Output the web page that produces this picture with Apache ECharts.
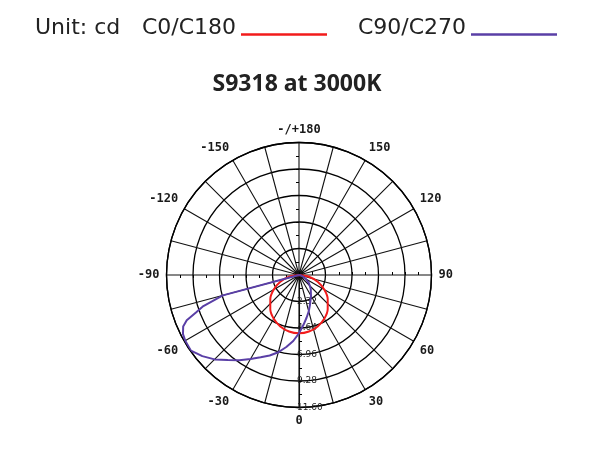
<!DOCTYPE html>
<html>
<head>
<meta charset="utf-8">
<script src="https://cdn.jsdelivr.net/npm/echarts@6/dist/echarts.min.js"></script>
<style>
html,body{margin:0;padding:0;background:#fff;}
#chart{width:594px;height:466px;}
</style>
</head>
<body>
<div id="chart"></div>
<script>
// ---- data ----
const titleText = 'S9318 at 3000K';
const unitText = 'Unit: cd';
const seriesNames = ['C0/C180', 'C90/C270'];
const angleC0 = [-90, -80, -70, -60, -50, -40, -30, -20, -10, 0, 10, 20, 30, 40, 50, 60, 70, 80, 90];
const intensityC0 = [0, 0.89, 1.74, 2.55, 3.28, 3.91, 4.42, 4.79, 5.02, 5.10, 5.02, 4.79, 4.42, 3.91, 3.28, 2.55, 1.74, 0.89, 0];
const angleC90 = [-90, -80, -76, -75, -72, -70, -68, -66, -63, -60, -55, -50, -45, -40, -35, -30, -25, -20, -15, -10, -5, 0, 5, 10, 15, 20, 30, 40, 50, 60, 70, 80, 90];
const intensityC90 = [0, 0, 0, 6.9, 8.8, 9.6, 10.6, 11.1, 11.4, 11.5, 11.55, 11.05, 10.45, 9.7, 9.1, 8.5, 7.95, 7.5, 7.0, 6.4, 5.8, 5.1, 4.4, 3.8, 3.3, 2.8, 2.1, 1.6, 1.15, 0.7, 0.35, 0.1, 0];
const radiusMax = 11.6;
const radiusStep = 2.32;
const angleStep = 15;

// ---- build ----
const toAxisAngle = a => (a < 0 ? a + 360 : a);
const pairs = (angs, vals) => angs.map((a, i) => [vals[i], toAxisAngle(a)]);

const CENTER = [299, 275];
const RADIUS = 132.5;

const polars = [{ center: CENTER, radius: RADIUS }];
const angleAxes = [{
  polarIndex: 0,
  type: 'value', min: 0, max: 360, interval: angleStep,
  startAngle: -90, clockwise: false,
  axisLine: { show: true, lineStyle: { color: '#000', width: 1.3 } },
  axisTick: { show: false },
  splitLine: { show: true, lineStyle: { color: '#111', width: 1.1 } },
  axisLabel: {
    margin: 7,
    fontFamily: 'DejaVu Sans Mono', fontWeight: 'bold', fontSize: 12, color: '#1a1a1a',
    formatter: v => {
      if (v % 30 !== 0 || v === 360) return '';
      if (v === 180) return '-/+180';
      return String(v > 180 ? v - 360 : v);
    }
  }
}];
const radiusAxes = [{
  polarIndex: 0,
  type: 'value', min: 0, max: radiusMax, interval: radiusStep,
  axisLine: { show: true, lineStyle: { color: '#111', width: 1.1 } },
  axisTick: { show: false },
  splitLine: { show: true, lineStyle: { color: '#000', width: 1.3 } },
  axisLabel: {
    show: true, margin: -2, align: 'left',
    fontFamily: 'DejaVu Sans', fontSize: 9, color: '#222',
    formatter: v => (v === 0 ? '' : v.toFixed(2))
  }
}];
// extra polar axes for the small cross ticks on the four main axes
[-90, 90, 0, 180].forEach(dir => {
  [false, true].forEach(inside => {
    const idx = polars.length;
    polars.push({ center: CENTER, radius: RADIUS });
    angleAxes.push({ polarIndex: idx, type: 'value', min: 0, max: 360, startAngle: dir, show: false });
    radiusAxes.push({
      polarIndex: idx, type: 'value', min: 0, max: radiusMax, interval: radiusStep / 2,
      axisLine: { show: false },
      axisTick: { show: true, inside: inside, length: 3, lineStyle: { color: '#000', width: 1 } },
      axisLabel: { show: false },
      splitLine: { show: false }
    });
  });
});

const legendText = {
  color: '#222',
  rich: { t: { fontFamily: 'DejaVu Sans', fontSize: 22, color: '#222', padding: [0, 0, 13, 0] } }
};
const chart = echarts.init(document.getElementById('chart'), null, { renderer: 'canvas' });
chart.setOption({
  animation: false,
  backgroundColor: '#fff',
  title: [
    { text: unitText, left: 35, top: 17, padding: 0,
      textStyle: { fontFamily: 'DejaVu Sans', fontSize: 22, fontWeight: 'normal', color: '#222' } },
    { text: titleText, left: 'center', top: 73, padding: 0,
      textStyle: { fontFamily: 'Noto Sans', fontSize: 23, fontWeight: 'bold', color: '#222' } }
  ],
  legend: [
    { data: [seriesNames[0]], right: 594 - 327, top: 17, padding: 0, align: 'right',
      icon: 'rect', itemWidth: 86, itemHeight: 2.5,
      formatter: n => '{t|' + n + '}', textStyle: legendText },
    { data: [seriesNames[1]], right: 594 - 557, top: 17, padding: 0, align: 'right',
      icon: 'rect', itemWidth: 86, itemHeight: 2.5,
      formatter: n => '{t|' + n + '}', textStyle: legendText }
  ],
  polar: polars,
  angleAxis: angleAxes,
  radiusAxis: radiusAxes,
  series: [
    { name: seriesNames[0], type: 'line', coordinateSystem: 'polar', polarIndex: 0,
      data: pairs(angleC0, intensityC0), showSymbol: false, smooth: 0.3,
      lineStyle: { color: '#f21b1b', width: 2 }, itemStyle: { color: '#f21b1b' } },
    { name: seriesNames[1], type: 'line', coordinateSystem: 'polar', polarIndex: 0,
      data: pairs(angleC90, intensityC90), showSymbol: false,
      lineStyle: { color: '#5a3fa6', width: 2 }, itemStyle: { color: '#5a3fa6' } }
  ]
});
</script>
</body>
</html>
